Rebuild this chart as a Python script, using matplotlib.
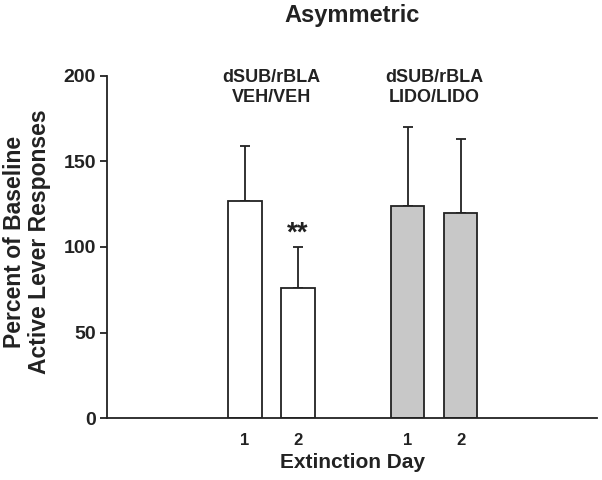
import numpy as np
import matplotlib.pyplot as plt

plt.rcParams['font.family'] = ['Liberation Sans', 'DejaVu Sans']
plt.rcParams['font.weight'] = 'bold'
plt.rcParams['axes.labelweight'] = 'bold'

# data
days = ['1', '2', '1', '2']
means = [127, 76, 124, 120]
sems = [32, 24, 46, 43]
groups = ['dSUB/rBLA\nVEH/VEH', 'dSUB/rBLA\nLIDO/LIDO']
colors = ['white', 'white', '#c8c8c8', '#c8c8c8']

pos = np.array([2.6, 3.6, 5.67, 6.67])
ink = '#222222'

fig = plt.figure(figsize=(6.02, 4.8), dpi=100)
ax = fig.add_axes([0.178, 0.129, 0.814, 0.713])

ax.bar(pos, means, width=0.64, color=colors, edgecolor=ink, linewidth=1.3, zorder=2)
ax.errorbar(pos, means, yerr=[np.zeros(4), sems], fmt='none', ecolor=ink,
            elinewidth=1.3, capsize=3.5, capthick=1.3, zorder=1)

ax.set_xlim(0, 9.25)
ax.set_ylim(0, 200)
ax.set_yticks([0, 50, 100, 150, 200])
ax.set_xticks(pos)
ax.set_xticklabels(days, fontsize=12, color=ink)
ax.tick_params(axis='x', length=0, pad=11)
ax.tick_params(axis='y', length=5, width=1.3, pad=3, labelsize=14, colors=ink)

for s in ['top', 'right']:
    ax.spines[s].set_visible(False)
for s in ['left', 'bottom']:
    ax.spines[s].set_linewidth(1.3)
    ax.spines[s].set_color(ink)

ax.set_xlabel('Extinction Day', fontsize=15, color=ink, labelpad=3)
# y label placed by hand so both lines sit where the reference has them
fig.text(0.045, 0.496, 'Percent of Baseline\nActive Lever Responses',
         rotation=90, ha='center', va='center', fontsize=16.5, color=ink,
         linespacing=1.1)

# group labels above bars
for g, x in zip(groups, [(pos[0] + pos[1]) / 2, (pos[2] + pos[3]) / 2]):
    ax.text(x, 200 - 7, g, ha='center', va='center', fontsize=13, color=ink,
            linespacing=1.25)

ax.text(pos[1], means[1] + sems[1] + 8, '**', ha='center', va='center',
        fontsize=20, color=ink)

fig.text(0.585, 0.968, 'Asymmetric', ha='center', va='center', fontsize=17,
         color=ink)

fig.savefig('out.png', dpi=100)
